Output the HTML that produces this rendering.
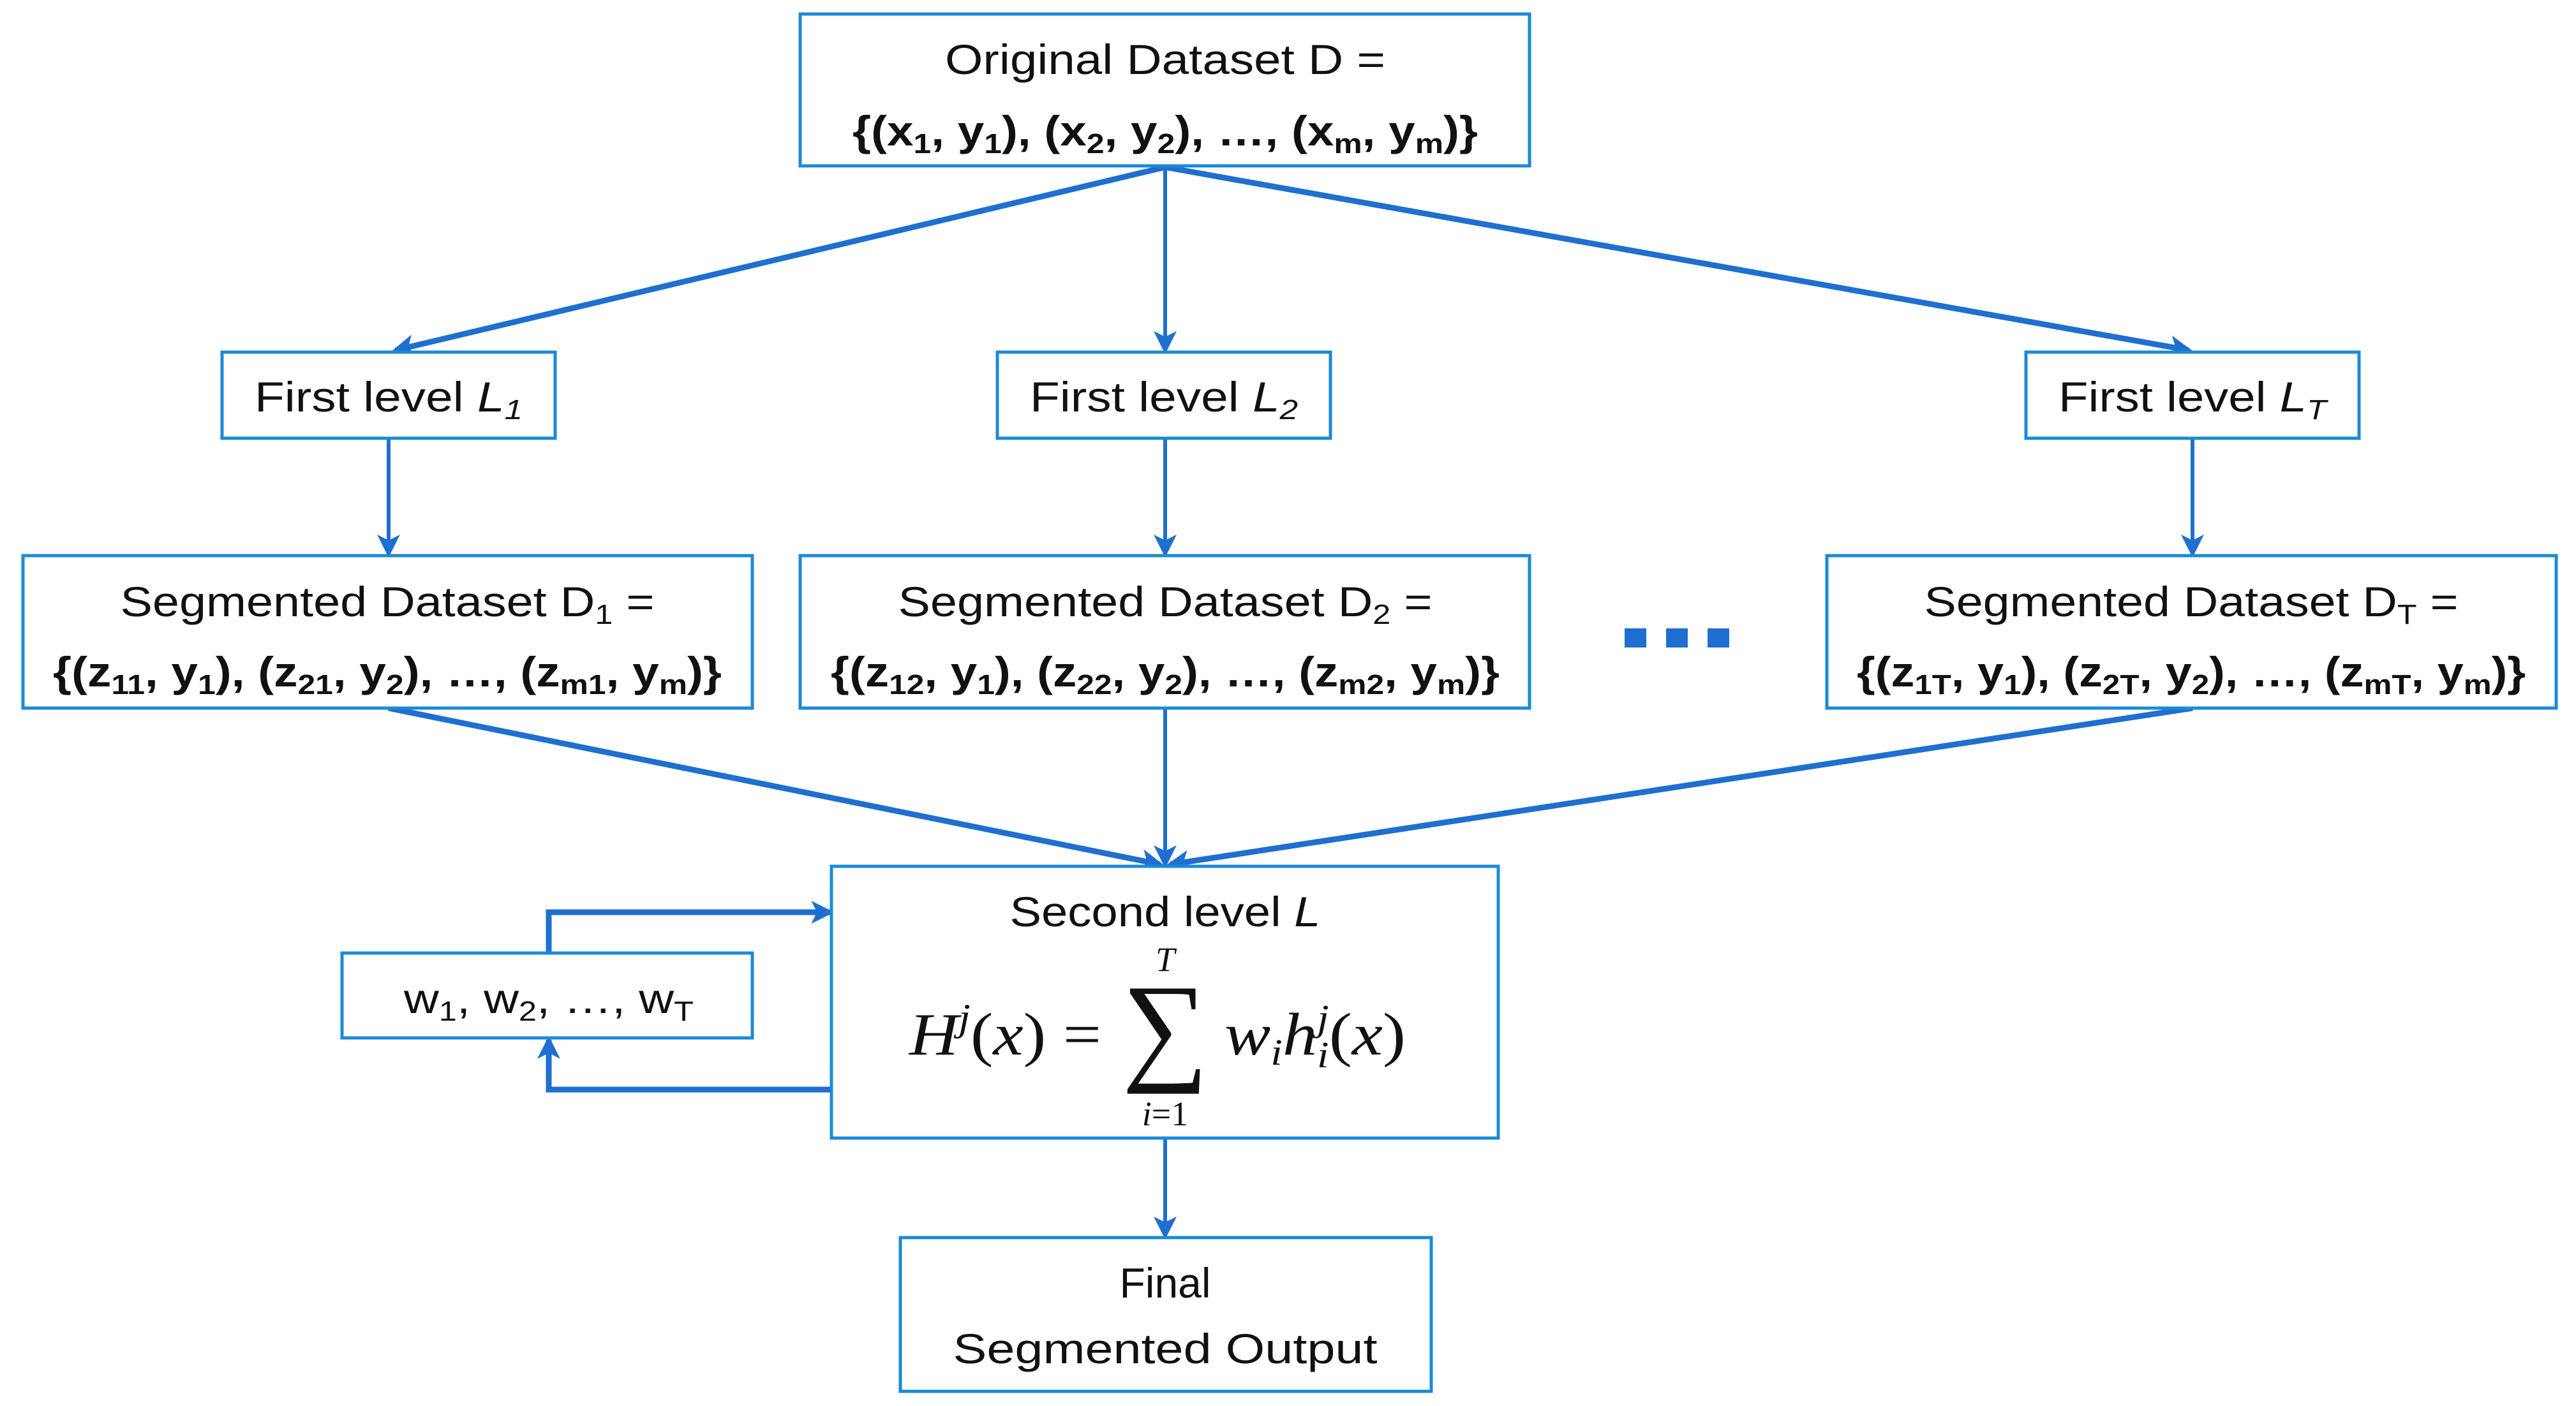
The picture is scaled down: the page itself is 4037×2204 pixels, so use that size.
<!DOCTYPE html>
<html><head><meta charset="utf-8"><style>
html,body{margin:0;padding:0;background:#fff;}
svg{display:block;}
text{font-family:"Liberation Sans",sans-serif;fill:#111;}
.m{font-family:"Liberation Serif",serif;font-style:italic;}
</style></head><body>
<svg width="4037" height="2204" viewBox="0 0 4037 2204" xmlns="http://www.w3.org/2000/svg">
<defs>
<marker id="a" markerWidth="6" markerHeight="6" refX="5" refY="3" orient="auto" markerUnits="strokeWidth"><path d="M0,0 L6,3 L0,6 L1.5,3 z" fill="#1f6fd0"/></marker>
<marker id="b" markerWidth="4" markerHeight="4" refX="3.3" refY="2" orient="auto" markerUnits="strokeWidth"><path d="M0,0 L4,2 L0,4 L1,2 z" fill="#1f6fd0"/></marker>
</defs>
<g fill="none" stroke="#1f6fd0">
<line x1="1826" y1="262" x2="620" y2="549" stroke-width="9" marker-end="url(#b)"/>
<line x1="1826" y1="262" x2="1826" y2="549" stroke-width="6" marker-end="url(#a)"/>
<line x1="1826" y1="262" x2="3430" y2="549" stroke-width="9" marker-end="url(#b)"/>
<line x1="609" y1="688" x2="609" y2="868" stroke-width="6" marker-end="url(#a)"/>
<line x1="1826" y1="688" x2="1826" y2="868" stroke-width="6" marker-end="url(#a)"/>
<line x1="3436" y1="688" x2="3436" y2="868" stroke-width="6" marker-end="url(#a)"/>
<line x1="609" y1="1110" x2="1818" y2="1355" stroke-width="9" marker-end="url(#b)"/>
<line x1="1826" y1="1110" x2="1826" y2="1355" stroke-width="6" marker-end="url(#a)"/>
<line x1="3436" y1="1110" x2="1834" y2="1355" stroke-width="9" marker-end="url(#b)"/>
<polyline points="1303,1708 860,1708 860,1630" stroke-width="9" marker-end="url(#b)"/>
<polyline points="860,1493 860,1430 1301,1430" stroke-width="9" marker-end="url(#b)"/>
<line x1="1826" y1="1786" x2="1826" y2="1937" stroke-width="6" marker-end="url(#a)"/>
</g>
<g fill="#fff" stroke="#1a8ad8" stroke-width="5">
<rect x="1254" y="22" width="1143" height="238"/>
<rect x="348" y="552" width="522" height="135"/>
<rect x="1563" y="552" width="522" height="135"/>
<rect x="3175" y="552" width="522" height="135"/>
<rect x="36" y="871" width="1143" height="239"/>
<rect x="1254" y="871" width="1143" height="239"/>
<rect x="2863" y="871" width="1143" height="239"/>
<rect x="1303" y="1358" width="1045" height="426"/>
<rect x="536" y="1494" width="643" height="133"/>
<rect x="1411" y="1940" width="832" height="241"/>
</g>
<g fill="#1f6fd0">
<rect x="2546" y="985" width="34" height="30"/><rect x="2611" y="985" width="34" height="30"/><rect x="2676" y="985" width="34" height="30"/>
</g>
<g font-size="66" text-anchor="middle">
<text x="1826" y="116" textLength="690" lengthAdjust="spacingAndGlyphs">Original Dataset D =</text>
<text x="1826" y="228" font-weight="bold" textLength="980" lengthAdjust="spacingAndGlyphs">{(x<tspan font-size="44" dy="12">1</tspan><tspan dy="-12">, y</tspan><tspan font-size="44" dy="12">1</tspan><tspan dy="-12">), (x</tspan><tspan font-size="44" dy="12">2</tspan><tspan dy="-12">, y</tspan><tspan font-size="44" dy="12">2</tspan><tspan dy="-12">), …, (x</tspan><tspan font-size="44" dy="12">m</tspan><tspan dy="-12">, y</tspan><tspan font-size="44" dy="12">m</tspan><tspan dy="-12">)}</tspan></text>
<text x="609" y="645" textLength="420" lengthAdjust="spacingAndGlyphs">First level <tspan font-style="italic">L</tspan><tspan font-style="italic" font-size="44" dy="12">1</tspan></text>
<text x="1824" y="645" textLength="420" lengthAdjust="spacingAndGlyphs">First level <tspan font-style="italic">L</tspan><tspan font-style="italic" font-size="44" dy="12">2</tspan></text>
<text x="3436" y="645" textLength="420" lengthAdjust="spacingAndGlyphs">First level <tspan font-style="italic">L</tspan><tspan font-style="italic" font-size="44" dy="12">T</tspan></text>
<text x="607" y="966" textLength="837" lengthAdjust="spacingAndGlyphs">Segmented Dataset D<tspan font-size="44" dy="12">1</tspan><tspan dy="-12"> =</tspan></text>
<text x="1826" y="966" textLength="837" lengthAdjust="spacingAndGlyphs">Segmented Dataset D<tspan font-size="44" dy="12">2</tspan><tspan dy="-12"> =</tspan></text>
<text x="3434" y="966" textLength="837" lengthAdjust="spacingAndGlyphs">Segmented Dataset D<tspan font-size="44" dy="12">T</tspan><tspan dy="-12"> =</tspan></text>
<text x="607" y="1076" font-weight="bold" textLength="1048" lengthAdjust="spacingAndGlyphs">{(z<tspan font-size="44" dy="12">11</tspan><tspan dy="-12">, y</tspan><tspan font-size="44" dy="12">1</tspan><tspan dy="-12">), (z</tspan><tspan font-size="44" dy="12">21</tspan><tspan dy="-12">, y</tspan><tspan font-size="44" dy="12">2</tspan><tspan dy="-12">), …, (z</tspan><tspan font-size="44" dy="12">m1</tspan><tspan dy="-12">, y</tspan><tspan font-size="44" dy="12">m</tspan><tspan dy="-12">)}</tspan></text>
<text x="1826" y="1076" font-weight="bold" textLength="1048" lengthAdjust="spacingAndGlyphs">{(z<tspan font-size="44" dy="12">12</tspan><tspan dy="-12">, y</tspan><tspan font-size="44" dy="12">1</tspan><tspan dy="-12">), (z</tspan><tspan font-size="44" dy="12">22</tspan><tspan dy="-12">, y</tspan><tspan font-size="44" dy="12">2</tspan><tspan dy="-12">), …, (z</tspan><tspan font-size="44" dy="12">m2</tspan><tspan dy="-12">, y</tspan><tspan font-size="44" dy="12">m</tspan><tspan dy="-12">)}</tspan></text>
<text x="3434" y="1076" font-weight="bold" textLength="1048" lengthAdjust="spacingAndGlyphs">{(z<tspan font-size="44" dy="12">1T</tspan><tspan dy="-12">, y</tspan><tspan font-size="44" dy="12">1</tspan><tspan dy="-12">), (z</tspan><tspan font-size="44" dy="12">2T</tspan><tspan dy="-12">, y</tspan><tspan font-size="44" dy="12">2</tspan><tspan dy="-12">), …, (z</tspan><tspan font-size="44" dy="12">mT</tspan><tspan dy="-12">, y</tspan><tspan font-size="44" dy="12">m</tspan><tspan dy="-12">)}</tspan></text>
<text x="1826" y="1452" textLength="487" lengthAdjust="spacingAndGlyphs">Second level <tspan font-style="italic">L</tspan></text>
<text x="860" y="1588" textLength="454" lengthAdjust="spacingAndGlyphs">w<tspan font-size="44" dy="12">1</tspan><tspan dy="-12">, w</tspan><tspan font-size="44" dy="12">2</tspan><tspan dy="-12">, …, w</tspan><tspan font-size="44" dy="12">T</tspan></text>
<text x="1826" y="2034">Final</text>
<text x="1826" y="2137" textLength="665" lengthAdjust="spacingAndGlyphs">Segmented Output</text>
</g>
<g font-size="94">
<text class="m" x="1425" y="1653" textLength="301" lengthAdjust="spacingAndGlyphs">H<tspan font-size="60" dy="-38">j</tspan><tspan dy="38" font-style="normal">(</tspan>x<tspan font-style="normal">) =</tspan></text>
<text x="1826" y="1674" font-size="190" text-anchor="middle" style="font-family:'Liberation Serif',serif">∑</text>
<text class="m" x="1826" y="1522" font-size="54" text-anchor="middle">T</text>
<text class="m" x="1826" y="1764" font-size="54" text-anchor="middle">i<tspan font-style="normal">=1</tspan></text>
<text class="m" x="1919" y="1653" textLength="284" lengthAdjust="spacingAndGlyphs">w<tspan font-size="58" dy="16">i</tspan><tspan dy="-16">h</tspan><tspan font-size="58" dy="20">i</tspan><tspan font-size="58" dx="-16" dy="-58">j</tspan><tspan dy="38" font-style="normal">(</tspan>x<tspan font-style="normal">)</tspan></text>
</g>
</svg>
</body></html>
